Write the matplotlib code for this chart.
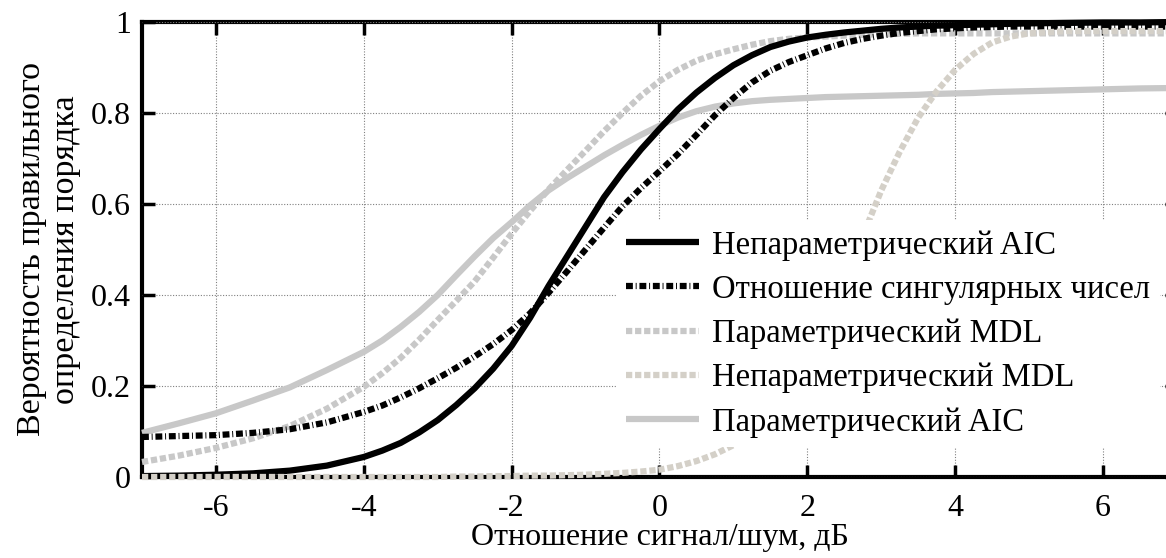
import numpy as np
import matplotlib
matplotlib.use("Agg")
import matplotlib.pyplot as plt

plt.rcParams['font.family'] = ['Liberation Serif', 'DejaVu Serif']

# SNR grid (dB)
snr = [-7, -6.5, -6, -5.5, -5, -4.5,
       -4, -3.75, -3.5, -3.25, -3, -2.75, -2.5, -2.25, -2, -1.75, -1.5, -1.25,
       -1, -0.75, -0.5, -0.25, 0, 0.25, 0.5, 0.75, 1, 1.25, 1.5, 1.75,
       2, 2.25, 2.5, 2.75, 3, 3.25, 3.5, 3.75, 4, 4.25, 4.5, 4.75, 5,
       5.5, 6, 6.5, 7]

np_aic = [0.002, 0.003, 0.005, 0.008, 0.014, 0.025,
          0.044, 0.058, 0.075, 0.098, 0.125, 0.158, 0.195, 0.238, 0.288, 0.35, 0.42, 0.485,
          0.55, 0.615, 0.67, 0.72, 0.765, 0.808, 0.845, 0.877, 0.905, 0.927, 0.945, 0.957,
          0.966, 0.972, 0.977, 0.981, 0.985, 0.988, 0.99, 0.992, 0.993, 0.994, 0.995, 0.996, 0.997,
          0.998, 0.999, 0.999, 1.0]

svr = [0.088, 0.09, 0.092, 0.097, 0.105, 0.12,
       0.143, 0.157, 0.175, 0.195, 0.217, 0.24, 0.265, 0.292, 0.323, 0.36, 0.405, 0.452,
       0.50, 0.548, 0.595, 0.635, 0.672, 0.71, 0.752, 0.795, 0.833, 0.867, 0.893, 0.912,
       0.927, 0.942, 0.954, 0.963, 0.970, 0.976, 0.98, 0.984, 0.986, 0.988, 0.989, 0.99, 0.99,
       0.99, 0.99, 0.99, 0.99]

p_mdl = [0.033, 0.047, 0.064, 0.085, 0.112, 0.15,
         0.198, 0.228, 0.262, 0.302, 0.345, 0.387, 0.43, 0.482, 0.535, 0.585, 0.632, 0.675,
         0.717, 0.76, 0.8, 0.838, 0.87, 0.895, 0.915, 0.929, 0.94, 0.95, 0.958, 0.963,
         0.966, 0.968, 0.97, 0.972, 0.973, 0.974, 0.975, 0.975, 0.975, 0.975, 0.975, 0.975, 0.975,
         0.975, 0.975, 0.975, 0.975]

np_mdl = [0.0, 0.0, 0.0, 0.0, 0.0, 0.0,
          0.0, 0.0, 0.0, 0.0, 0.0, 0.001, 0.001, 0.002, 0.002, 0.003, 0.003, 0.004,
          0.005, 0.007, 0.009, 0.012, 0.016, 0.024, 0.035, 0.05, 0.07, 0.097, 0.13, 0.18,
          0.24, 0.325, 0.42, 0.53, 0.63, 0.715, 0.79, 0.848, 0.895, 0.93, 0.955, 0.968, 0.975,
          0.98, 0.98, 0.98, 0.98]

p_aic = [0.097, 0.118, 0.14, 0.168, 0.197, 0.235,
         0.275, 0.30, 0.33, 0.363, 0.40, 0.443, 0.485, 0.525, 0.56, 0.597, 0.63, 0.657,
         0.682, 0.707, 0.73, 0.752, 0.772, 0.79, 0.804, 0.814, 0.821, 0.826, 0.829, 0.831,
         0.833, 0.835, 0.836, 0.837, 0.838, 0.839, 0.84, 0.842, 0.843, 0.844, 0.846, 0.847, 0.848,
         0.85, 0.852, 0.854, 0.855]

labels = ['Непараметрический AIC', 'Отношение сингулярных чисел',
          'Параметрический MDL', 'Непараметрический MDL', 'Параметрический AIC']
xticks = [-6, -4, -2, 0, 2, 4, 6]
yticks = [0, 0.2, 0.4, 0.6, 0.8, 1]
ytick_labels = ['0', '0.2', '0.4', '0.6', '0.8', '1']

fig = plt.figure(figsize=(11.66, 5.58), dpi=100)
ax = fig.add_axes([142/1166, 81/558, 1035/1166, 455/558])

lw = 4.5
ax.plot(snr, np_aic, color='black', lw=lw, solid_capstyle='butt', label=labels[0],
        zorder=5, clip_on=False)
ax.plot(snr, svr, color='black', lw=lw, dashes=(1.1, 0.45, 0.15, 0.45), label=labels[1],
        zorder=4, clip_on=False)
ax.plot(snr, p_mdl, color='#c8c8c8', lw=lw, dashes=(1.0, 0.45), label=labels[2],
        zorder=3, clip_on=False)
ax.plot(snr, np_mdl, color='#d4d0c8', lw=lw, dashes=(1.0, 0.45), label=labels[3],
        zorder=6, clip_on=False)
ax.plot(snr, p_aic, color='#c8c8c8', lw=lw, solid_capstyle='butt', label=labels[4],
        zorder=2, clip_on=False)

ax.set_xlim(-7, 7)
ax.set_ylim(0, 1)
ax.set_xticks(xticks)
ax.set_xticklabels([str(t) for t in xticks])
ax.set_yticks(yticks)
ax.set_yticklabels(ytick_labels)
ax.grid(True, color='#808080', linestyle=(0, (1, 1.5)), linewidth=0.8)
ax.tick_params(axis='both', direction='in', length=9, width=2.5, labelsize=23,
               top=True, right=True)
ax.tick_params(axis='x', pad=12)
ax.tick_params(axis='y', pad=8)
for s in ['left', 'top', 'bottom', 'right']:
    ax.spines[s].set_linewidth(3)
    ax.spines[s].set_zorder(1)

ax.set_xlabel('Отношение сигнал/шум, дБ', fontsize=23, labelpad=0)
ax.set_ylabel('Вероятность правильного\nопределения порядка', fontsize=24.5,
              labelpad=7, linespacing=1.15)

leg = ax.legend(loc='upper left', bbox_to_anchor=(0.458, 0.564), fontsize=23.5,
                handlelength=2.25, handletextpad=0.4, labelspacing=0.42,
                borderpad=0.3, borderaxespad=0.0, frameon=True, framealpha=1, fancybox=False)
leg.get_frame().set_edgecolor('none')
leg.get_frame().set_facecolor('white')
leg.set_zorder(10)

fig.savefig('out.png', dpi=100)
